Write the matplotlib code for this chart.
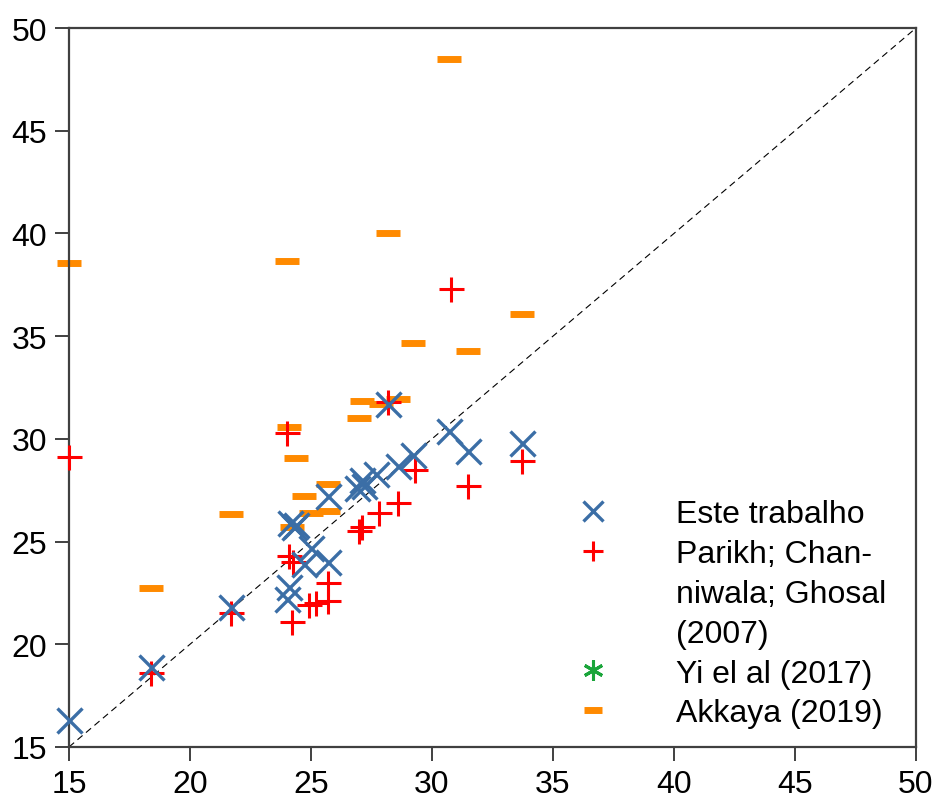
import numpy as np
import matplotlib
matplotlib.use("Agg")
import matplotlib.pyplot as plt
from matplotlib.lines import Line2D

plt.rcParams['font.family'] = ['Liberation Sans', 'DejaVu Sans']

# Este trabalho (blue x)
este_x = [15.0, 18.4, 21.7, 24.0, 24.1, 24.15, 24.3, 24.4, 24.7, 25.0, 25.7,
          25.7, 26.9, 27.1, 27.2, 27.7, 28.2, 28.6, 29.2, 30.7, 31.5, 33.7]
este_y = [16.3, 18.9, 21.8, 22.2, 22.8, 25.9, 25.7, 25.8, 23.9, 24.7, 24.0,
          27.2, 27.6, 28.0, 27.7, 28.3, 31.7, 28.7, 29.2, 30.4, 29.4, 29.8]

# Parikh; Channiwala; Ghosal (2007) (red +)
parikh_x = [15.0, 18.4, 21.7, 24.0, 24.1, 24.25, 24.2, 24.9, 25.2, 25.7, 25.7,
            27.0, 27.1, 27.8, 28.6, 29.3, 28.2, 30.8, 31.5, 33.7]
parikh_y = [29.1, 18.6, 21.5, 30.3, 24.3, 24.0, 21.1, 21.9, 22.0, 22.1, 23.0,
            25.5, 25.7, 26.4, 26.9, 28.5, 31.8, 37.3, 27.7, 28.9]

# Yi el al (2017) (green *) - no visible points
yi_x = []
yi_y = []

# Akkaya (2019) (orange _)
akkaya_x = [15.0, 18.4, 21.7, 24.0, 24.1, 24.4, 24.7, 24.2, 25.0, 25.7, 25.7,
            27.0, 27.1, 27.9, 28.6, 28.2, 29.2, 30.7, 31.5, 33.7]
akkaya_y = [38.55, 22.75, 26.35, 38.65, 30.6, 29.05, 27.2, 25.7, 26.4, 26.5, 27.8,
            31.0, 31.85, 31.7, 31.95, 40.0, 34.65, 48.5, 34.3, 36.1]

ticks = [15, 20, 25, 30, 35, 40, 45, 50]

blue = '#3b6ea6'
red = '#ff0000'
green = '#1aa53a'
orange = '#ff8a00'

fig = plt.figure(figsize=(9.34, 8.04), dpi=100)
ax = fig.add_axes([0.0739, 0.0697, 0.9068, 0.8942])

ax.plot([15, 50], [15, 50], color='black', lw=0.8, ls=(0, (6, 4)), zorder=1)

h_akk, = ax.plot(akkaya_x, akkaya_y, ls='none', marker='_', color=orange,
                 ms=17, mew=5, zorder=2, clip_on=False)
h_par, = ax.plot(parikh_x, parikh_y, ls='none', marker='+', color=red,
                 ms=18, mew=2.2, zorder=3, clip_on=False)
h_yi, = ax.plot(yi_x, yi_y, ls='none', marker=(6, 2, 0), color=green,
                ms=18, mew=2.2, zorder=3, clip_on=False)
h_est, = ax.plot(este_x, este_y, ls='none', marker='x', color=blue,
                 ms=18, mew=2.4, zorder=4, clip_on=False)

ax.set_xlim(15, 50)
ax.set_ylim(15, 50)
ax.set_xticks(ticks)
ax.set_yticks(ticks)

for s in ax.spines.values():
    s.set_color('#404040')
    s.set_linewidth(1.6)
ax.tick_params(direction='out', length=10, width=1.4, color='#404040',
               labelsize=23, pad=6)

blank = Line2D([], [], ls='none', marker=None)
handles = [h_est, h_par, blank, blank, h_yi, h_akk]
labels = ['Este trabalho', 'Parikh; Chan-', 'niwala; Ghosal', '(2007)',
          'Yi el al (2017)', 'Akkaya (2019)']
ax.legend(handles, labels, loc='upper left', bbox_to_anchor=(0.581, 0.345),
          frameon=False, fontsize=23, markerscale=0.8, handlelength=2.0,
          handletextpad=1.6, labelspacing=0.31, borderpad=0, borderaxespad=0)

fig.savefig('out.png', dpi=100)
